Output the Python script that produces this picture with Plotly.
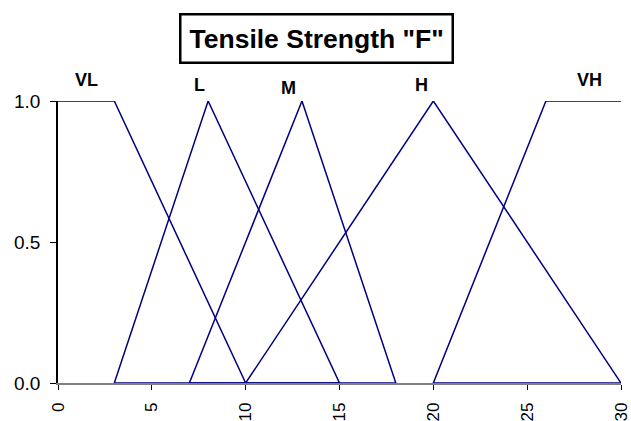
import plotly.graph_objects as go

# Membership function vertices (x = tensile strength, y = membership)
vl_x = [0, 3, 10]
vl_y = [1, 1, 0]
l_x = [3, 8, 15, 3]
l_y = [0, 1, 0, 0]
m_x = [7, 13, 18, 7]
m_y = [0, 1, 0, 0]
h_x = [10, 20, 30]
h_y = [0, 1, 0]
vh_x = [30, 20, 26, 30]
vh_y = [0, 0, 1, 1]

labels = ["VL", "L", "M", "H", "VH"]
label_x = [1.5, 7.55, 12.3, 19.35, 28.3]
label_y = [1.075, 1.055, 1.045, 1.055, 1.075]

x_ticks = [0, 5, 10, 15, 20, 25, 30]
y_ticks = [0.0, 0.5, 1.0]

FONT = "Liberation Sans, Arial, sans-serif"
NAVY = "#000080"
X_MIN, X_MAX = 0, 30
Y_MIN, Y_MAX = 0, 1

L_M, R_M = 58, 10
plot_right = 631 - R_M

fig = go.Figure()
for xs, ys in [(vl_x, vl_y), (l_x, l_y), (m_x, m_y), (h_x, h_y), (vh_x, vh_y)]:
    fig.add_trace(go.Scatter(x=xs, y=ys, mode="lines",
                             line=dict(color=NAVY, width=1.5),
                             showlegend=False, hoverinfo="skip", cliponaxis=False))

annotations = []
for t, x, y in zip(labels, label_x, label_y):
    annotations.append(dict(x=(x - X_MIN) / (X_MAX - X_MIN), y=(y - Y_MIN) / (Y_MAX - Y_MIN),
                            xref="paper", yref="paper", text="<b>%s</b>" % t,
                            showarrow=False, font=dict(family=FONT, size=18, color="black"),
                            xanchor="center", yanchor="middle"))
annotations.append(dict(x=(316 - L_M) / (plot_right - L_M), y=(383 - 38) / (383 - 101),
                        xref="paper", yref="paper",
                        text='<b>Tensile Strength "F"</b>', showarrow=False,
                        font=dict(family=FONT, size=26.5, color="black"),
                        bordercolor="black", borderwidth=2.5, borderpad=8,
                        bgcolor="white", xanchor="center", yanchor="middle"))

fig.update_layout(
    width=631, height=421,
    margin=dict(l=L_M, r=R_M, t=101, b=38),
    paper_bgcolor="white", plot_bgcolor="white",
    annotations=annotations,
    xaxis=dict(range=[X_MIN, X_MAX], tickvals=x_ticks, ticktext=[str(v) for v in x_ticks],
               tickangle=-90, showgrid=False, zeroline=False, automargin=False,
               showline=True, linecolor="#808080", linewidth=1.5,
               ticks="outside", ticklen=5, tickcolor="black", ticklabelstandoff=6,
               ticklabeloverflow="allow",
               tickfont=dict(family=FONT, size=17, color="black")),
    yaxis=dict(range=[Y_MIN, Y_MAX], tickvals=y_ticks, ticktext=["0.0", "0.5", "1.0"],
               showgrid=False, zeroline=False, automargin=False,
               showline=True, linecolor="black", linewidth=1.5,
               ticks="outside", ticklen=6, tickcolor="black", ticklabelstandoff=6,
               tickfont=dict(family=FONT, size=19, color="black")),
)

fig.write_html("out.html", config={"displayModeBar": False},
               post_script="document.body.style.margin='0';document.body.style.overflow='hidden';")
